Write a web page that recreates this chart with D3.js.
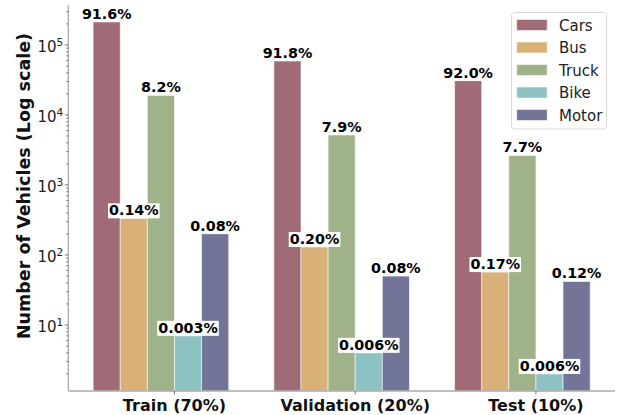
<!DOCTYPE html>
<html>
<head>
<meta charset="utf-8">
<script src="https://cdn.jsdelivr.net/npm/d3@7"></script>
<style>
  html, body { margin: 0; padding: 0; background: #fff; }
  svg { display: block; font-family: "DejaVu Sans", sans-serif; }
</style>
</head>
<body>
<svg id="chart" width="621" height="415"></svg>
<script>
// ---- data ----
const splits = ["Train (70%)", "Validation (20%)", "Test (10%)"];
const classes = ["Cars", "Bus", "Truck", "Bike", "Motor"];
const colors = ["#a06a77", "#d8b078", "#a0b28a", "#8cc2c2", "#727598"];
const cars  = [213000, 59000, 30900];
const bus   = [334, 130, 57];
const truck = [19100, 5180, 2650];
const bike  = [7, 4, 2];
const motor = [201, 50, 42];
const carsPct  = ["91.6%", "91.8%", "92.0%"];
const busPct   = ["0.14%", "0.20%", "0.17%"];
const truckPct = ["8.2%", "7.9%", "7.7%"];
const bikePct  = ["0.003%", "0.006%", "0.006%"];
const motorPct = ["0.08%", "0.08%", "0.12%"];
const yTickValues = [1e1, 1e2, 1e3, 1e4, 1e5];
const yTickExps = ["1", "2", "3", "4", "5"];
const yLabel = "Number of Vehicles (Log scale)";

const series = [cars, bus, truck, bike, motor];
const pcts = [carsPct, busPct, truckPct, bikePct, motorPct];
const barW = 0.15;

// ---- layout ----
const plotLeft = 68.3, plotRight = 615, plotTop = 5, plotBottom = 391;
const svg = d3.select("#chart");

const x = d3.scaleLinear().domain([-0.5875, 2.4375]).range([plotLeft, plotRight]);
const y = d3.scaleLog().domain([Math.pow(10, 0.057), Math.pow(10, 5.571)]).range([plotBottom, plotTop]);

// bars
const bars = [];
series.forEach((vals, i) => {
  vals.forEach((v, g) => {
    bars.push({i, g, v, pct: pcts[i][g]});
  });
});

const gBars = svg.append("g");
gBars.selectAll("rect").data(bars).enter().append("rect")
  .attr("x", d => x(d.g + (d.i - 3) * barW))
  .attr("width", d => x(barW) - x(0))
  .attr("y", d => y(d.v))
  .attr("height", d => plotBottom - y(d.v))
  .attr("fill", d => colors[d.i])
  .attr("stroke", "rgba(255,255,255,0.55)")
  .attr("stroke-width", 1);

// spines
svg.append("line").attr("x1", plotLeft).attr("x2", plotLeft).attr("y1", plotTop).attr("y2", plotBottom)
  .attr("stroke", "#aaaaaa").attr("stroke-width", 1.3);
svg.append("line").attr("x1", plotLeft).attr("x2", plotRight).attr("y1", plotBottom).attr("y2", plotBottom)
  .attr("stroke", "#aaaaaa").attr("stroke-width", 1.3);

// y ticks (major + minor)
const allTicks = y.ticks();
const gY = svg.append("g");
allTicks.forEach(t => {
  const lg = Math.log10(t);
  const major = Math.abs(lg - Math.round(lg)) < 1e-9;
  gY.append("line")
    .attr("x1", plotLeft).attr("x2", plotLeft - (major ? 3.5 : 2))
    .attr("y1", y(t)).attr("y2", y(t))
    .attr("stroke", "#555").attr("stroke-width", 0.8);
});
yTickValues.forEach((t, k) => {
  const txt = gY.append("text")
    .attr("x", plotLeft - 5)
    .attr("y", y(t) + 7)
    .attr("text-anchor", "end")
    .attr("fill", "#222")
    .style("font-size", "15px");
  txt.append("tspan").text("10");
  txt.append("tspan").attr("dy", -6).style("font-size", "10.5px").text(yTickExps[k]);
});

// x ticks + labels
splits.forEach((s, g) => {
  svg.append("line").attr("x1", x(g)).attr("x2", x(g)).attr("y1", plotBottom).attr("y2", plotBottom + 3.5)
    .attr("stroke", "#555").attr("stroke-width", 0.8);
  svg.append("text").attr("x", x(g)).attr("y", 410.5)
    .attr("text-anchor", "middle").attr("fill", "#111")
    .style("font-size", "16px").style("font-weight", "bold")
    .text(s);
});

// y label
svg.append("text")
  .attr("transform", `translate(30,186) rotate(-90)`)
  .attr("text-anchor", "middle")
  .attr("fill", "#111")
  .style("font-size", "17.5px").style("font-weight", "bold")
  .text(yLabel);

// value labels with white background
const gLab = svg.append("g");
bars.forEach(d => {
  const cx = x(d.g + (d.i - 3) * barW + barW / 2);
  const by = y(d.v) - 3;
  const grp = gLab.append("g");
  const t = grp.append("text").attr("x", cx).attr("y", by)
    .attr("text-anchor", "middle").attr("fill", "#000")
    .style("font-size", "14.3px").style("font-weight", "bold")
    .text(d.pct);
  const bb = t.node().getBBox();
  grp.insert("rect", "text")
    .attr("x", bb.x - 1).attr("y", bb.y + 1)
    .attr("width", bb.width + 2).attr("height", bb.height - 1)
    .attr("fill", "#fff");
});

// legend
const lg = svg.append("g");
lg.append("rect").attr("x", 511.5).attr("y", 12.5).attr("width", 95).attr("height", 116.5)
  .attr("rx", 3).attr("fill", "#fff").attr("stroke", "#d8d8d8").attr("stroke-width", 1);
classes.forEach((c, i) => {
  const cy = 25 + i * 22.5;
  lg.append("rect").attr("x", 516.7).attr("y", cy - 5.5).attr("width", 30.5).attr("height", 11)
    .attr("fill", colors[i]).attr("stroke", "rgba(255,255,255,0.55)").attr("stroke-width", 1);
  lg.append("text").attr("x", 559).attr("y", cy + 5.5)
    .attr("fill", "#222").style("font-size", "15px").text(c);
});
</script>
</body>
</html>
